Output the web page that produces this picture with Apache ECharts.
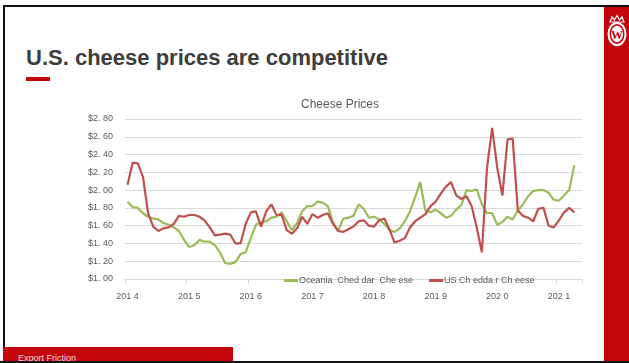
<!DOCTYPE html>
<html>
<head>
<meta charset="utf-8">
<script src="https://cdn.jsdelivr.net/npm/echarts@6/dist/echarts.min.js"></script>
<style>
  html, body { margin: 0; padding: 0; width: 629px; height: 363px; overflow: hidden; background: #fff; }
  #slide { position: relative; width: 629px; height: 363px; font-family: "Liberation Sans", Arial, sans-serif; }
  #chart { position: absolute; left: 0; top: 0; width: 629px; height: 363px; }
  .bar { position: absolute; }
  #title { position: absolute; left: 26px; top: 45px; font-size: 22px; font-weight: bold; color: #3d3d3d; white-space: nowrap; }
  #footerText { position: absolute; left: 18px; top: 353px; font-size: 9px; color: #f3dede; white-space: nowrap; }
  #crest { position: absolute; left: 607px; top: 13px; }
</style>
</head>
<body>
<div id="slide">
  <div class="bar" style="left:604px;top:6px;width:25px;height:357px;background:#c5050c;"></div>
  <div class="bar" style="left:3px;top:5px;width:626px;height:2px;background:#111;"></div>
  <div class="bar" style="left:3px;top:5px;width:2px;height:358px;background:#111;"></div>
  <div id="title">U.S. cheese prices are competitive</div>
  <div class="bar" style="left:26px;top:77px;width:24px;height:4px;background:#c5050c;"></div>
  <div class="bar" style="left:3px;top:347px;width:230px;height:16px;background:#c5050c;"></div>
  <div id="footerText">Export Friction</div>
  <svg id="crest" width="20" height="38" viewBox="0 0 20 38">
    <path d="M3 9 L5 4 L7.5 7 L10 2.5 L12.5 7 L15 4 L17 9 Z" fill="none" stroke="#fff" stroke-width="1.2"/>
    <ellipse cx="10" cy="21" rx="8.5" ry="11" fill="none" stroke="#fff" stroke-width="2"/>
    <ellipse cx="10" cy="21" rx="6" ry="8.3" fill="#fff"/>
    <text x="10" y="25.5" text-anchor="middle" font-family="Liberation Serif, serif" font-weight="bold" font-size="12" fill="#c5050c">W</text>
  </svg>
  <div class="bar" style="left:0;top:361px;width:629px;height:2px;background:#111;"></div>
  <div id="chart"></div>
</div>
<script>
// Monthly cheese prices, USD per lb, January 2014 through April 2021
const years = [2014, 2015, 2016, 2017, 2018, 2019, 2020, 2021];
const yearLabels = ['201 4', '201 5', '201 6', '201 7', '201 8', '201 9', '202 0', '202 1'];
const seriesNames = ['Oceania  Ched dar  Che ese', 'US Ch edda r Ch eese'];

const oceaniaCheddar = [
  1.87, 1.81, 1.80, 1.74, 1.70, 1.68, 1.67, 1.63, 1.61, 1.58, 1.54, 1.44,
  1.36, 1.38, 1.44, 1.42, 1.42, 1.38, 1.30, 1.18, 1.17, 1.19, 1.28, 1.30,
  1.46, 1.61, 1.64, 1.65, 1.69, 1.70, 1.75, 1.65, 1.55, 1.63, 1.76, 1.82,
  1.82, 1.87, 1.86, 1.82, 1.64, 1.54, 1.68, 1.69, 1.71, 1.84, 1.79, 1.69,
  1.70, 1.67, 1.62, 1.55, 1.53, 1.57, 1.65, 1.76, 1.92, 2.09, 1.77, 1.75,
  1.78, 1.74, 1.69, 1.71, 1.78, 1.83, 2.00, 1.99, 2.01, 1.84, 1.74, 1.74,
  1.61, 1.64, 1.70, 1.67, 1.77, 1.84, 1.93, 1.99, 2.00, 2.00, 1.97, 1.89,
  1.88, 1.94, 2.00, 2.28
];

const usCheddar = [
  2.06, 2.31, 2.30, 2.15, 1.74, 1.59, 1.54, 1.57, 1.58, 1.62, 1.71, 1.70,
  1.72, 1.72, 1.70, 1.66, 1.58, 1.49, 1.50, 1.51, 1.50, 1.40, 1.40, 1.62,
  1.75, 1.76, 1.59, 1.76, 1.84, 1.72, 1.72, 1.55, 1.51, 1.57, 1.70, 1.62,
  1.73, 1.69, 1.72, 1.74, 1.62, 1.54, 1.53, 1.56, 1.59, 1.65, 1.66, 1.60,
  1.59, 1.66, 1.68, 1.56, 1.41, 1.43, 1.46, 1.58, 1.65, 1.69, 1.73, 1.82,
  1.87, 1.96, 2.04, 2.09, 1.94, 1.90, 1.93, 1.82, 1.58, 1.30, 2.25, 2.70,
  2.25, 1.94, 2.57, 2.58, 1.77, 1.71, 1.69, 1.65, 1.79, 1.80, 1.60, 1.58,
  1.66, 1.75, 1.80, 1.75
];

// One category per month; the axis runs one month past the last reading
const months = [];
years.forEach(y => {
  for (let m = 1; m <= 12; m++) months.push(y + '-' + (m < 10 ? '0' + m : m));
});
const monthCount = usCheddar.length + 1;
months.length = monthCount;

const font = '"Liberation Sans", Arial, sans-serif';
const chart = echarts.init(document.getElementById('chart'), null, { renderer: 'canvas' });

chart.setOption({
  animation: false,
  backgroundColor: 'transparent',
  color: ['#9bbb59', '#c0504d'],
  title: {
    text: 'Cheese Prices',
    left: 335, top: 94, textAlign: 'center',
    textStyle: { fontFamily: font, fontSize: 12, fontWeight: 'normal', color: '#595959' }
  },
  legend: {
    left: 279, top: 271,
    itemWidth: 14, itemHeight: 3, itemGap: 16,
    icon: 'rect',
    textStyle: { fontFamily: font, fontSize: 9, color: '#595959', padding: [0, 0, 0, -4] },
    data: seriesNames
  },
  grid: { left: 125, right: 47, top: 119, bottom: 84 },
  xAxis: {
    type: 'category',
    data: months,
    boundaryGap: true,
    axisLine: { lineStyle: { color: '#d9d9d9', width: 1 } },
    axisTick: { show: true, length: 4, interval: i => i % 12 === 0, lineStyle: { color: '#d9d9d9' } },
    axisLabel: {
      interval: 0, margin: 13,
      fontFamily: font, fontSize: 9, color: '#595959',
      formatter: (v, i) => (i % 12 === 0 ? yearLabels[i / 12] : '')
    },
    splitLine: { show: false }
  },
  yAxis: {
    type: 'value',
    min: 1, max: 2.8, interval: 0.2,
    axisLine: { show: false },
    axisTick: { show: false },
    axisLabel: {
      margin: 12, fontFamily: font, fontSize: 9, color: '#595959',
      formatter: v => '$' + v.toFixed(2).replace('.', '. ')
    },
    splitLine: { lineStyle: { color: '#d9d9d9', width: 1 } }
  },
  series: [
    {
      name: seriesNames[0], type: 'line', data: oceaniaCheddar,
      symbol: 'none', lineStyle: { width: 2.2, color: '#9bbb59' }, z: 2
    },
    {
      name: seriesNames[1], type: 'line', data: usCheddar,
      symbol: 'none', lineStyle: { width: 2.2, color: '#c0504d' }, z: 3
    }
  ]
});
</script>
</body>
</html>
